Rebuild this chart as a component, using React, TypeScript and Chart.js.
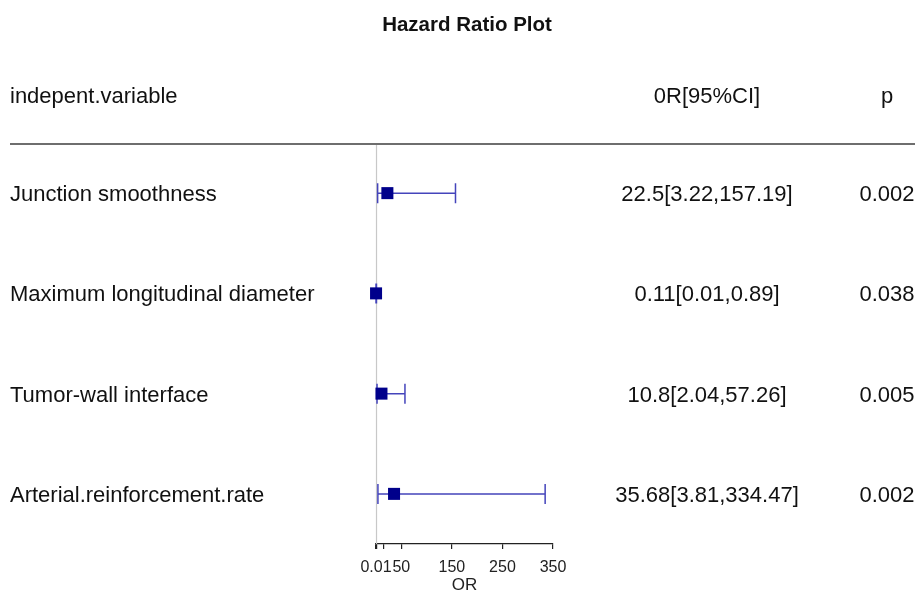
import React, { useEffect, useRef } from "react";
import { Chart, registerables } from "chart.js";

Chart.register(...registerables);

const variables = [
  "Junction smoothness",
  "Maximum longitudinal diameter",
  "Tumor-wall interface",
  "Arterial.reinforcement.rate",
];
const orValues = [22.5, 0.11, 10.8, 35.68];
const lowerCI = [3.22, 0.01, 2.04, 3.81];
const upperCI = [157.19, 0.89, 57.26, 334.47];
const pValues = ["0.002", "0.038", "0.005", "0.002"];
const tickValues = [0.01, 1, 15, 50, 150, 250, 350];
const tickLabels = ["0.01", "", "", "50", "150", "250", "350"];

const FONT = "'Liberation Sans', Arial, sans-serif";
const MARK = "#00008B";
const BAR = "#4444bb";

const tablePlugin = {
  id: "forestTable",
  beforeDatasetsDraw(chart: any) {
    const { ctx, scales } = chart;
    const x = scales.x;
    const y = scales.y;
    ctx.save();
    const xr = x.getPixelForValue(1);
    ctx.strokeStyle = "#c8c8c8";
    ctx.lineWidth = 1.2;
    ctx.beginPath();
    ctx.moveTo(xr, chart.chartArea.top);
    ctx.lineTo(xr, chart.chartArea.bottom);
    ctx.stroke();
    ctx.strokeStyle = BAR;
    ctx.lineWidth = 1.5;
    for (let i = 0; i < variables.length; i++) {
      const yy = y.getPixelForValue(i + 1);
      const x1 = x.getPixelForValue(lowerCI[i]);
      const x2 = x.getPixelForValue(upperCI[i]);
      ctx.beginPath();
      ctx.moveTo(x1, yy);
      ctx.lineTo(x2, yy);
      ctx.moveTo(x1, yy - 10);
      ctx.lineTo(x1, yy + 10);
      ctx.moveTo(x2, yy - 10);
      ctx.lineTo(x2, yy + 10);
      ctx.stroke();
    }
    ctx.restore();
  },
  afterDraw(chart: any) {
    const { ctx, scales } = chart;
    const y = scales.y;
    ctx.save();
    ctx.fillStyle = "#111";
    ctx.textBaseline = "middle";
    ctx.font = `bold 20.5px ${FONT}`;
    ctx.textAlign = "center";
    ctx.fillText("Hazard Ratio Plot", 467, 25);
    ctx.font = `22px ${FONT}`;
    ctx.textAlign = "left";
    ctx.fillText("indepent.variable", 10, 97);
    ctx.textAlign = "center";
    ctx.fillText("0R[95%CI]", 707, 97);
    ctx.fillText("p", 887, 97);
    ctx.strokeStyle = "#6e6e6e";
    ctx.lineWidth = 2;
    ctx.beginPath();
    ctx.moveTo(10, 144);
    ctx.lineTo(915, 144);
    ctx.stroke();
    for (let i = 0; i < variables.length; i++) {
      const yy = y.getPixelForValue(i + 1) + 2;
      ctx.textAlign = "left";
      ctx.fillText(variables[i], 10, yy);
      ctx.textAlign = "center";
      ctx.fillText(`${orValues[i]}[${lowerCI[i]},${upperCI[i]}]`, 707, yy);
      ctx.fillText(pValues[i], 887, yy);
    }
    ctx.restore();
  },
};

export default function App() {
  const ref = useRef<HTMLCanvasElement>(null);
  useEffect(() => {
    if (!ref.current) return;
    const chart = new Chart(ref.current, {
      type: "scatter",
      data: {
        datasets: [
          {
            data: orValues.map((v, i) => ({ x: v, y: i + 1 })),
            pointStyle: "rect",
            pointRadius: 8.5,
            pointHoverRadius: 8.5,
            backgroundColor: MARK,
            borderColor: MARK,
            borderWidth: 0,
            clip: false,
          },
        ],
      },
      options: {
        animation: false,
        responsive: false,
        maintainAspectRatio: false,
        layout: { padding: { left: 376, right: 366, top: 143, bottom: 0 } },
        plugins: {
          legend: { display: false },
          tooltip: { enabled: false },
          title: { display: false },
        },
        scales: {
          x: {
            type: "linear",
            min: 0,
            max: 350,
            afterBuildTicks: (scale: any) => {
              scale.ticks = tickValues.map((v) => ({ value: v }));
            },
            afterFit: (scale: any) => {
              scale.height = 46;
            },
            ticks: {
              autoSkip: false,
              maxRotation: 0,
              padding: 9,
              color: "#222",
              font: { family: FONT, size: 16 },
              callback: (_v: any, idx: number) => tickLabels[idx],
            },
            grid: {
              drawOnChartArea: false,
              drawTicks: true,
              tickLength: 5,
              color: "#222",
              lineWidth: 1.2,
            },
            border: { display: true, color: "#222", width: 1.2 },
            title: {
              display: true,
              text: "OR",
              color: "#222",
              font: { family: FONT, size: 17 },
              padding: { top: -8, bottom: -6 },
            },
          },
          y: {
            type: "linear",
            display: false,
            reverse: true,
            min: 0.5,
            max: 4.5,
          },
        },
      },
      plugins: [tablePlugin],
    });
    return () => chart.destroy();
  }, []);
  return (
    <div style={{ position: "fixed", left: 0, top: 0, width: 919, height: 590, background: "#fff" }}>
      <canvas ref={ref} width={919} height={590} style={{ display: "block" }} />
    </div>
  );
}
